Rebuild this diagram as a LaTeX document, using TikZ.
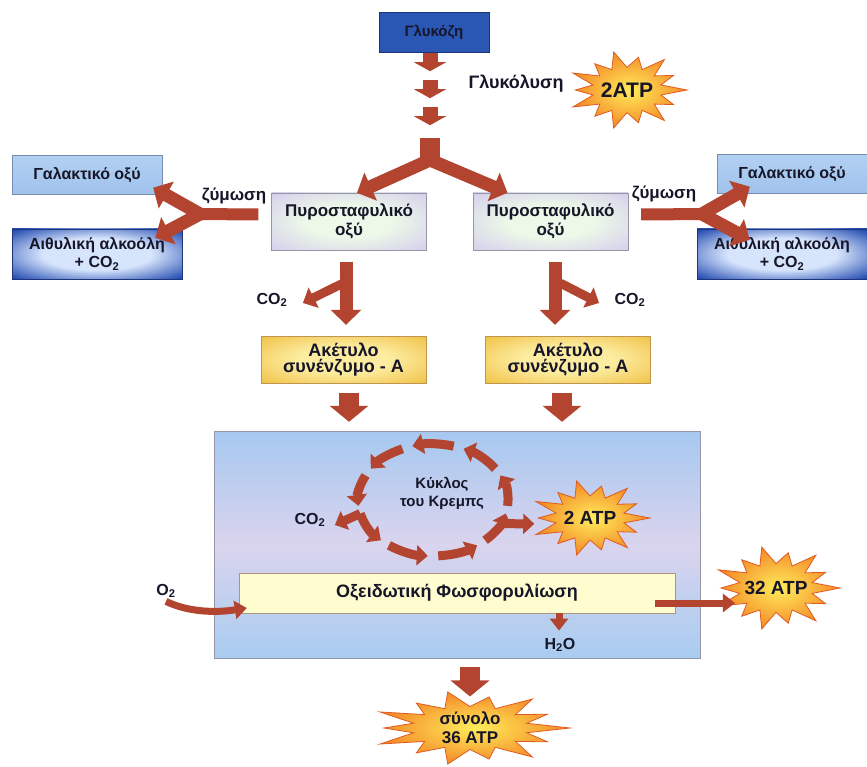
\documentclass[tikz,border=0pt]{standalone}
\usepackage{fontspec}
\setmainfont{Liberation Sans}
\usetikzlibrary{arrows.meta,calc}

\definecolor{arrowred}{RGB}{178,68,48}
\definecolor{ink}{RGB}{22,22,40}
\definecolor{glublue}{RGB}{42,86,180}
\definecolor{blueedge}{RGB}{30,52,120}
\definecolor{lactop}{RGB}{178,208,242}
\definecolor{lacbot}{RGB}{160,194,236}
\definecolor{lacedge}{RGB}{120,140,175}
\definecolor{ethin}{RGB}{214,228,252}
\definecolor{ethout}{RGB}{38,78,178}
\definecolor{pyrin}{RGB}{236,248,232}
\definecolor{pyrout}{RGB}{212,206,236}
\definecolor{grayedge}{RGB}{150,150,165}
\definecolor{acin}{RGB}{252,236,160}
\definecolor{acout}{RGB}{240,188,60}
\definecolor{acedge}{RGB}{190,150,80}
\definecolor{celltop}{RGB}{166,200,240}
\definecolor{cellmid}{RGB}{218,212,238}
\definecolor{cellbot}{RGB}{168,204,240}
\definecolor{oxfill}{RGB}{255,252,208}
\definecolor{oxedge}{RGB}{175,150,120}
\definecolor{burstin}{RGB}{255,236,90}
\definecolor{burstout}{RGB}{244,138,40}
\definecolor{burstedge}{RGB}{222,92,32}

\pgfdeclareradialshading{ethglow}{\pgfpointorigin}{color(0bp)=(ethin); color(16bp)=(ethin); color(34bp)=(ethout); color(50bp)=(ethout)}
\pgfdeclareradialshading{pyrglow}{\pgfpointorigin}{color(0bp)=(pyrin); color(14bp)=(pyrin); color(36bp)=(pyrout); color(50bp)=(pyrout)}
\pgfdeclareradialshading{acglow}{\pgfpointorigin}{color(0bp)=(acin); color(14bp)=(acin); color(38bp)=(acout); color(50bp)=(acout)}

% starburst behind a label: centre x, centre y, x radius, y radius
\newcommand{\burst}[4]{%
  \shadedraw[inner color=burstin, outer color=burstout, draw=burstedge, line width=0.8pt, shift={(#1,#2)}]
    plot[samples at={0,...,28}, variable=\bk]
    ({cos(\bk*360/28)*ifthenelse(mod(\bk,2)==0, ifthenelse(mod(\bk,4)==0,1,0.86), 0.58)*#3},
     {sin(\bk*360/28)*ifthenelse(mod(\bk,2)==0, ifthenelse(mod(\bk,4)==0,1,0.86), 0.58)*#4}) -- cycle;}

\begin{document}
\begin{tikzpicture}[x=1pt, y=-1pt,
    every node/.style={font=\fontsize{17}{19}\selectfont\bfseries, text=ink, align=center},
    glubox/.style={draw=blueedge, fill=glublue, minimum width=110pt, minimum height=40pt},
    lacbox/.style={draw=lacedge, top color=lactop, bottom color=lacbot, minimum width=150pt, minimum height=39pt, font=\fontsize{16}{18}\selectfont\bfseries},
    ethbox/.style={draw=blueedge, shading=ethglow, minimum width=170pt, minimum height=50pt, font=\fontsize{16}{17}\selectfont\bfseries},
    pyrbox/.style={draw=grayedge, shading=pyrglow, minimum width=155pt, minimum height=57pt},
    acbox/.style={draw=acedge, shading=acglow, minimum width=165pt, minimum height=47pt, font=\fontsize{18}{18}\selectfont\bfseries},
    cellbox/.style={draw=grayedge, top color=celltop, bottom color=cellbot, middle color=cellmid, minimum width=486pt, minimum height=227pt},
    oxbox/.style={draw=oxedge, fill=oxfill, minimum width=436pt, minimum height=40pt, font=\fontsize{18}{20}\selectfont\bfseries},
    small/.style={font=\fontsize{16}{18}\selectfont\bfseries},
    atp/.style={font=\fontsize{19}{21}\selectfont\bfseries},
    chunk/.style={draw=arrowred, line width=15pt, -{Triangle[width=32pt,length=9pt]}},
    stem/.style={draw=arrowred, line width=20pt},
    bar/.style={draw=arrowred, line width=12pt},
    fatarrow/.style={draw=arrowred, line width=13pt, -{Triangle[width=30pt,length=15pt]}},
    widearrow/.style={draw=arrowred, line width=20pt, -{Triangle[width=38pt,length=16pt]}},
    co2arrow/.style={draw=arrowred, line width=9pt, -{Triangle[width=22pt,length=12pt]}},
    ringarrow/.style={draw=arrowred, line width=9pt, -{Triangle[width=20pt,length=11pt]}},
    thinarrow/.style={draw=arrowred, line width=7pt, -{Triangle[width=18pt,length=12pt]}}]
    \useasboundingbox (0,0) rectangle (867,767);

    % boxes
    \node[glubox] (glucose) at (434,32) {\fontsize{15}{17}\selectfont Γλυκόζη};
    \node[pyrbox] (pyrL) at (349,221.5) {Πυροσταφυλικό\\οξύ};
    \node[pyrbox] (pyrR) at (550.5,221.5) {Πυροσταφυλικό\\οξύ};
    \node[lacbox] (lacL) at (87,175) {Γαλακτικό οξύ};
    \node[lacbox] (lacR) at (792,174) {Γαλακτικό οξύ};
    \node[ethbox] (ethL) at (97,254) {\raisebox{-3pt}{\shortstack{Αιθυλική αλκοόλη\\+ CO\textsubscript{2}}}};
    \node[ethbox] (ethR) at (782,254) {\raisebox{-3pt}{\shortstack{Αιθυλική αλκοόλη\\+ CO\textsubscript{2}}}};
    \node[acbox] (acL) at (343.5,359.5) {\raisebox{-3pt}{\shortstack{Ακέτυλο\\συνένζυμο - Α}}};
    \node[acbox] (acR) at (568,359.5) {\raisebox{-3pt}{\shortstack{Ακέτυλο\\συνένζυμο - Α}}};
    \node[cellbox] (cell) at (457,544.5) {};
    \node[oxbox] (oxphos) at (457,593) {Οξειδωτική Φωσφορυλίωση};

    % labels
    \node[font=\fontsize{18}{20}\selectfont\bfseries] (glyc) at (516,84) {Γλυκόλυση};
    \node (zymL) at (234,196) {ζύμωση};
    \node (zymR) at (664,194) {ζύμωση};
    \node[small] (co2L) at (272,300) {CO\textsubscript{2}};
    \node[small] (co2R) at (630,300) {CO\textsubscript{2}};
    \node[font=\fontsize{15}{18}\selectfont\bfseries] (krebs) at (442,493) {Κύκλος\\του Κρεμπς};
    \node[small] (co2K) at (310,520) {CO\textsubscript{2}};
    \node[small] (o2) at (166,591) {O\textsubscript{2}};
    \node[small] (h2o) at (560,645) {H\textsubscript{2}O};
    \coordinate (split) at (430,160);
    \coordinate (forkL) at (196,214);
    \coordinate (forkR) at (706,214);
    \coordinate (ring) at (433,500);

    % bursts
    \burst{627}{90}{60}{39}
    \burst{590}{518}{60}{38}
    \burst{776}{588}{64}{42}
    \burst{470}{728}{100}{37}
    \node[font=\fontsize{21}{23}\selectfont\bfseries] (atpGly) at (627,90) {2ATP};
    \node[atp] (atpKrebs) at (590,518) {2 ATP};
    \node[atp] (atpOx) at (776,588) {32 ATP};
    \node (total) at (470,728) {σύνολο\\36 ATP};

    % glycolysis
    \foreach \d in {0,27,54}
        \draw[chunk] ([xshift=-4pt,yshift={-(\d+1)}]glucose.south) -- ([xshift=-4pt,yshift={-(\d+19)}]glucose.south);
    \draw[stem] ([xshift=-4pt,yshift=-86pt]glucose.south) -- ([yshift=-6pt]split);
    \draw[fatarrow] (split) -- ([xshift=8pt]pyrL.north);
    \draw[fatarrow] (split) -- ([xshift=-43pt]pyrR.north);

    % fermentation
    \draw[bar] ([xshift=-13pt,yshift=7pt]pyrL.west) -- (forkL);
    \draw[fatarrow] ([xshift=4pt]forkL) -- ([xshift=-9pt,yshift=7pt]lacL.south east);
    \draw[fatarrow] ([xshift=4pt]forkL) -- ([xshift=-27pt,yshift=-9pt]ethL.north east);
    \draw[bar] ([xshift=13pt,yshift=7pt]pyrR.east) -- (forkR);
    \draw[fatarrow] ([xshift=-4pt]forkR) -- ([xshift=33pt,yshift=7pt]lacR.south west);
    \draw[fatarrow] ([xshift=-4pt]forkR) -- ([xshift=53pt,yshift=-11pt]ethR.north west);

    % pyruvate to acetyl-CoA
    \draw[fatarrow, shorten <=12pt, shorten >=11pt] ([xshift=-3pt]pyrL.south) -- ([xshift=-3pt]pyrL.south |- acL.north);
    \draw[co2arrow] ([xshift=-6pt,yshift=-33pt]pyrL.south) -- ([xshift=12pt,yshift=-3pt]co2L.east);
    \draw[fatarrow, shorten <=12pt, shorten >=11pt] ([xshift=4.5pt]pyrR.south) -- ([xshift=4.5pt]pyrR.south |- acR.north);
    \draw[co2arrow] ([xshift=10pt,yshift=-33pt]pyrR.south) -- ([xshift=-12pt,yshift=-3pt]co2R.west);
    \draw[widearrow, shorten <=10pt, shorten >=9pt] ([xshift=5.5pt]acL.south) -- ([xshift=5.5pt]acL.south |- cell.north);
    \draw[widearrow, shorten <=10pt, shorten >=9pt] ([xshift=-6pt]acR.south) -- ([xshift=-6pt]acR.south |- cell.north);

    % Krebs cycle
    \foreach \a in {270,230,...,-50}
        \draw[ringarrow] ($(ring)+({\a+16}:75 and 56)$) arc[start angle=\a+16, end angle=\a-16, x radius=75, y radius=56];
    \draw[ringarrow] ($(ring)+(166:75 and 56)$) -- ([xshift=6pt,yshift=-5pt]co2K.east);
    \draw[ringarrow, shorten >=26pt] ($(ring)+(25:75 and 56)$) -- ([yshift=-6pt]atpKrebs.west);

    % oxidative phosphorylation
    \draw[thinarrow] (o2.south) .. controls (188,612) and (215,613) .. ([xshift=8pt,yshift=-15pt]oxphos.west);
    \draw[thinarrow] ([xshift=-20pt,yshift=-10pt]oxphos.east) -- ([xshift=-6pt,yshift=-15pt]atpOx.west);
    \draw[thinarrow, shorten >=4pt] ([xshift=102pt]oxphos.south) -- ([xshift=-1pt]h2o.north);
    \draw[widearrow, shorten <=9pt, shorten >=12pt] (cell.south -| total) -- (total.north);
\end{tikzpicture}
\end{document}
